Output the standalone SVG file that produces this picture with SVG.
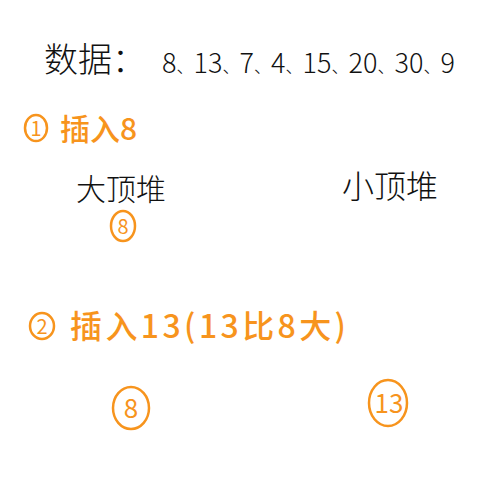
<svg xmlns="http://www.w3.org/2000/svg" width="500" height="483" viewBox="0 0 500 483">
<style>
.blk{font-family:"Noto Sans CJK SC","Liberation Sans",sans-serif;fill:#111;font-weight:300}
.org{font-family:"Noto Sans CJK SC","Liberation Sans",sans-serif;fill:#f7941d;font-weight:500}
.num{font-weight:400}
.sep{font-size:17px}
.ring{fill:none;stroke:#f7941d;stroke-width:2.5}
</style>
<rect width="500" height="483" fill="#fff"/>
<g id="data">
<text class="blk" x="44" y="72" font-size="34">数据：</text>
<text class="blk" x="162" y="73" font-size="27" textLength="293" lengthAdjust="spacing">8<tspan class="sep">、</tspan>13<tspan class="sep">、</tspan>7<tspan class="sep">、</tspan>4<tspan class="sep">、</tspan>15<tspan class="sep">、</tspan>20<tspan class="sep">、</tspan>30<tspan class="sep">、</tspan>9</text>
</g>
<g id="step1">
<ellipse class="ring" cx="36" cy="128" rx="11" ry="13"/>
<text class="org num" x="36" y="136" font-size="20" text-anchor="middle">1</text>
<text class="org" x="60" y="140" font-size="30">插入8</text>
</g>
<g id="big-heap-label"><text class="blk" x="76" y="200" font-size="30">大顶堆</text></g>
<g id="small-heap-label"><text class="blk" x="342" y="198" font-size="32">小顶堆</text></g>
<g id="node-8a">
<ellipse class="ring" cx="123" cy="226" rx="12" ry="15"/>
<text class="org num" x="123" y="234" font-size="20" text-anchor="middle">8</text>
</g>
<g id="step2">
<ellipse class="ring" cx="42" cy="326" rx="12" ry="13"/>
<text class="org num" x="42" y="334" font-size="20" text-anchor="middle">2</text>
<text class="org" x="70" y="338" font-size="32" textLength="276" lengthAdjust="spacing">插入13(13比8大)</text>
</g>
<g id="node-8b">
<ellipse class="ring" cx="131" cy="408" rx="18" ry="21"/>
<text class="org num" x="131" y="418" font-size="26" text-anchor="middle">8</text>
</g>
<g id="node-13">
<ellipse class="ring" cx="388" cy="403" rx="19" ry="23"/>
<text class="org num" x="389" y="413" font-size="26" text-anchor="middle">13</text>
</g>
<g id="connectors"/>
</svg>
